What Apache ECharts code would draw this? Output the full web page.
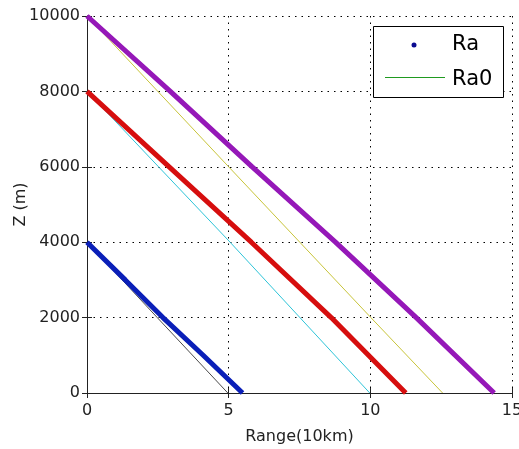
<!DOCTYPE html>
<html><head><meta charset="utf-8">
<script src="https://cdn.jsdelivr.net/npm/echarts@6/dist/echarts.min.js"></script>
<style>html,body{margin:0;padding:0;background:#fff}#c{width:519px;height:449px}</style>
</head><body><div id="c"></div>
<script>
// Ra (thick, computed) series: [range, z]
const raBlue   = [[0,4000],[1.35,3000],[2.68,2000],[4.1,1000],[5.49,0]];
const raRed    = [[0,8000],[2.9,6000],[5.8,4000],[8.62,2000],[11.25,0]];
const raPurple = [[0,10000],[2.94,8000],[5.83,6000],[8.77,4000],[11.62,2000],[14.37,0]];
// Ra0 (thin reference) series
const ra0Black  = [[0,4000],[2.48,2000],[4.97,0]];
const ra0Cyan   = [[0,8000],[5.05,4000],[9.98,0]];
const ra0Yellow = [[0,10000],[5.0,6000],[10.02,2000],[12.55,0]];
const xTicks = [0,5,10,15];
const yTicks = [0,2000,4000,6000,8000,10000];
const legendNames = ['Ra','Ra0'];

const font = 'DejaVu Sans';
const chart = echarts.init(document.getElementById('c'), null, {renderer:'canvas'});
const grid = {left:87, right:7, top:16, bottom:56, containLabel:false, outerBoundsMode:'none'};
const dotted = {color:'#000', width:1, type:[1.5,5]};
function thick(name, data, color){
  return {name, type:'line', data, showSymbol:false, symbol:'none', smooth:false,
    lineStyle:{color, width:5}, itemStyle:{color}, z:3, xAxisIndex:0, yAxisIndex:0};
}
function thin(name, data, color){
  return {name, type:'line', data, showSymbol:false, symbol:'none',
    lineStyle:{color, width:1}, itemStyle:{color}, z:2, xAxisIndex:0, yAxisIndex:0};
}
const axisLabelStyle = {fontFamily:font, fontSize:16, color:'#222'};
chart.setOption({
  backgroundColor:'#fff',
  animation:false,
  grid,
  xAxis:[{
    type:'value', min:xTicks[0], max:xTicks[xTicks.length-1], interval:5,
    name:'Range(10km)', nameLocation:'middle', nameGap:36, nameMoveOverlap:false,
    nameTextStyle:{fontFamily:font, fontSize:16, color:'#222'},
    axisLine:{show:true, onZero:false, lineStyle:{color:'#222', width:1}},
    axisTick:{show:true, inside:true, length:5, lineStyle:{color:'#222'}},
    axisLabel:{...axisLabelStyle, margin:10, formatter:v=>String(v)},
    splitLine:{show:true, lineStyle:dotted}
  },{
    type:'value', position:'top', min:0, max:15, interval:5,
    axisLine:{show:true, lineStyle:{color:'#222'}},
    axisTick:{show:true, inside:true, length:5, lineStyle:{color:'#222'}},
    axisLabel:{show:false}, splitLine:{show:false}
  }],
  yAxis:[{
    type:'value', min:yTicks[0], max:yTicks[yTicks.length-1], interval:2000,
    name:'Z (m)', nameLocation:'middle', nameGap:58, nameRotate:90, nameMoveOverlap:false,
    nameTextStyle:{fontFamily:font, fontSize:16, color:'#222'},
    axisLine:{show:true, lineStyle:{color:'#222', width:1}},
    axisTick:{show:true, inside:true, length:5, lineStyle:{color:'#222'}},
    axisLabel:{...axisLabelStyle, margin:7, formatter:v=>String(v)},
    splitLine:{show:true, lineStyle:dotted}
  },{
    type:'value', position:'right', min:0, max:10000, interval:2000,
    axisLine:{show:true, lineStyle:{color:'#222'}},
    axisTick:{show:true, inside:true, length:5, lineStyle:{color:'#222'}},
    axisLabel:{show:false}, splitLine:{show:false}
  }],
  series:[
    thin('Ra0 black', ra0Black, '#4a4a4a'),
    thin('Ra0 cyan', ra0Cyan, '#2ec4d8'),
    thin('Ra0 yellow', ra0Yellow, '#c8c43a'),
    thick('Ra blue', raBlue, '#0a1fb8'),
    thick('Ra red', raRed, '#d60e0e'),
    thick('Ra purple', raPurple, '#9518b8')
  ],
  graphic:[
    {type:'rect', shape:{x:373.5, y:26.5, width:130, height:71}, style:{fill:'#fff', stroke:'#000', lineWidth:1}, z:100},
    {type:'circle', shape:{cx:414, cy:45, r:2.5}, style:{fill:'#0a0a90'}, z:101},
    {type:'line', shape:{x1:385, y1:77.5, x2:445, y2:77.5}, style:{stroke:'#1f9a1f', lineWidth:1.2}, z:101},
    {type:'text', x:452, y:45, style:{text:legendNames[0], font:'21px "DejaVu Sans"', fill:'#000', verticalAlign:'middle'}, z:101},
    {type:'text', x:452, y:80, style:{text:legendNames[1], font:'21px "DejaVu Sans"', fill:'#000', verticalAlign:'middle'}, z:101}
  ]
});
</script></body></html>
